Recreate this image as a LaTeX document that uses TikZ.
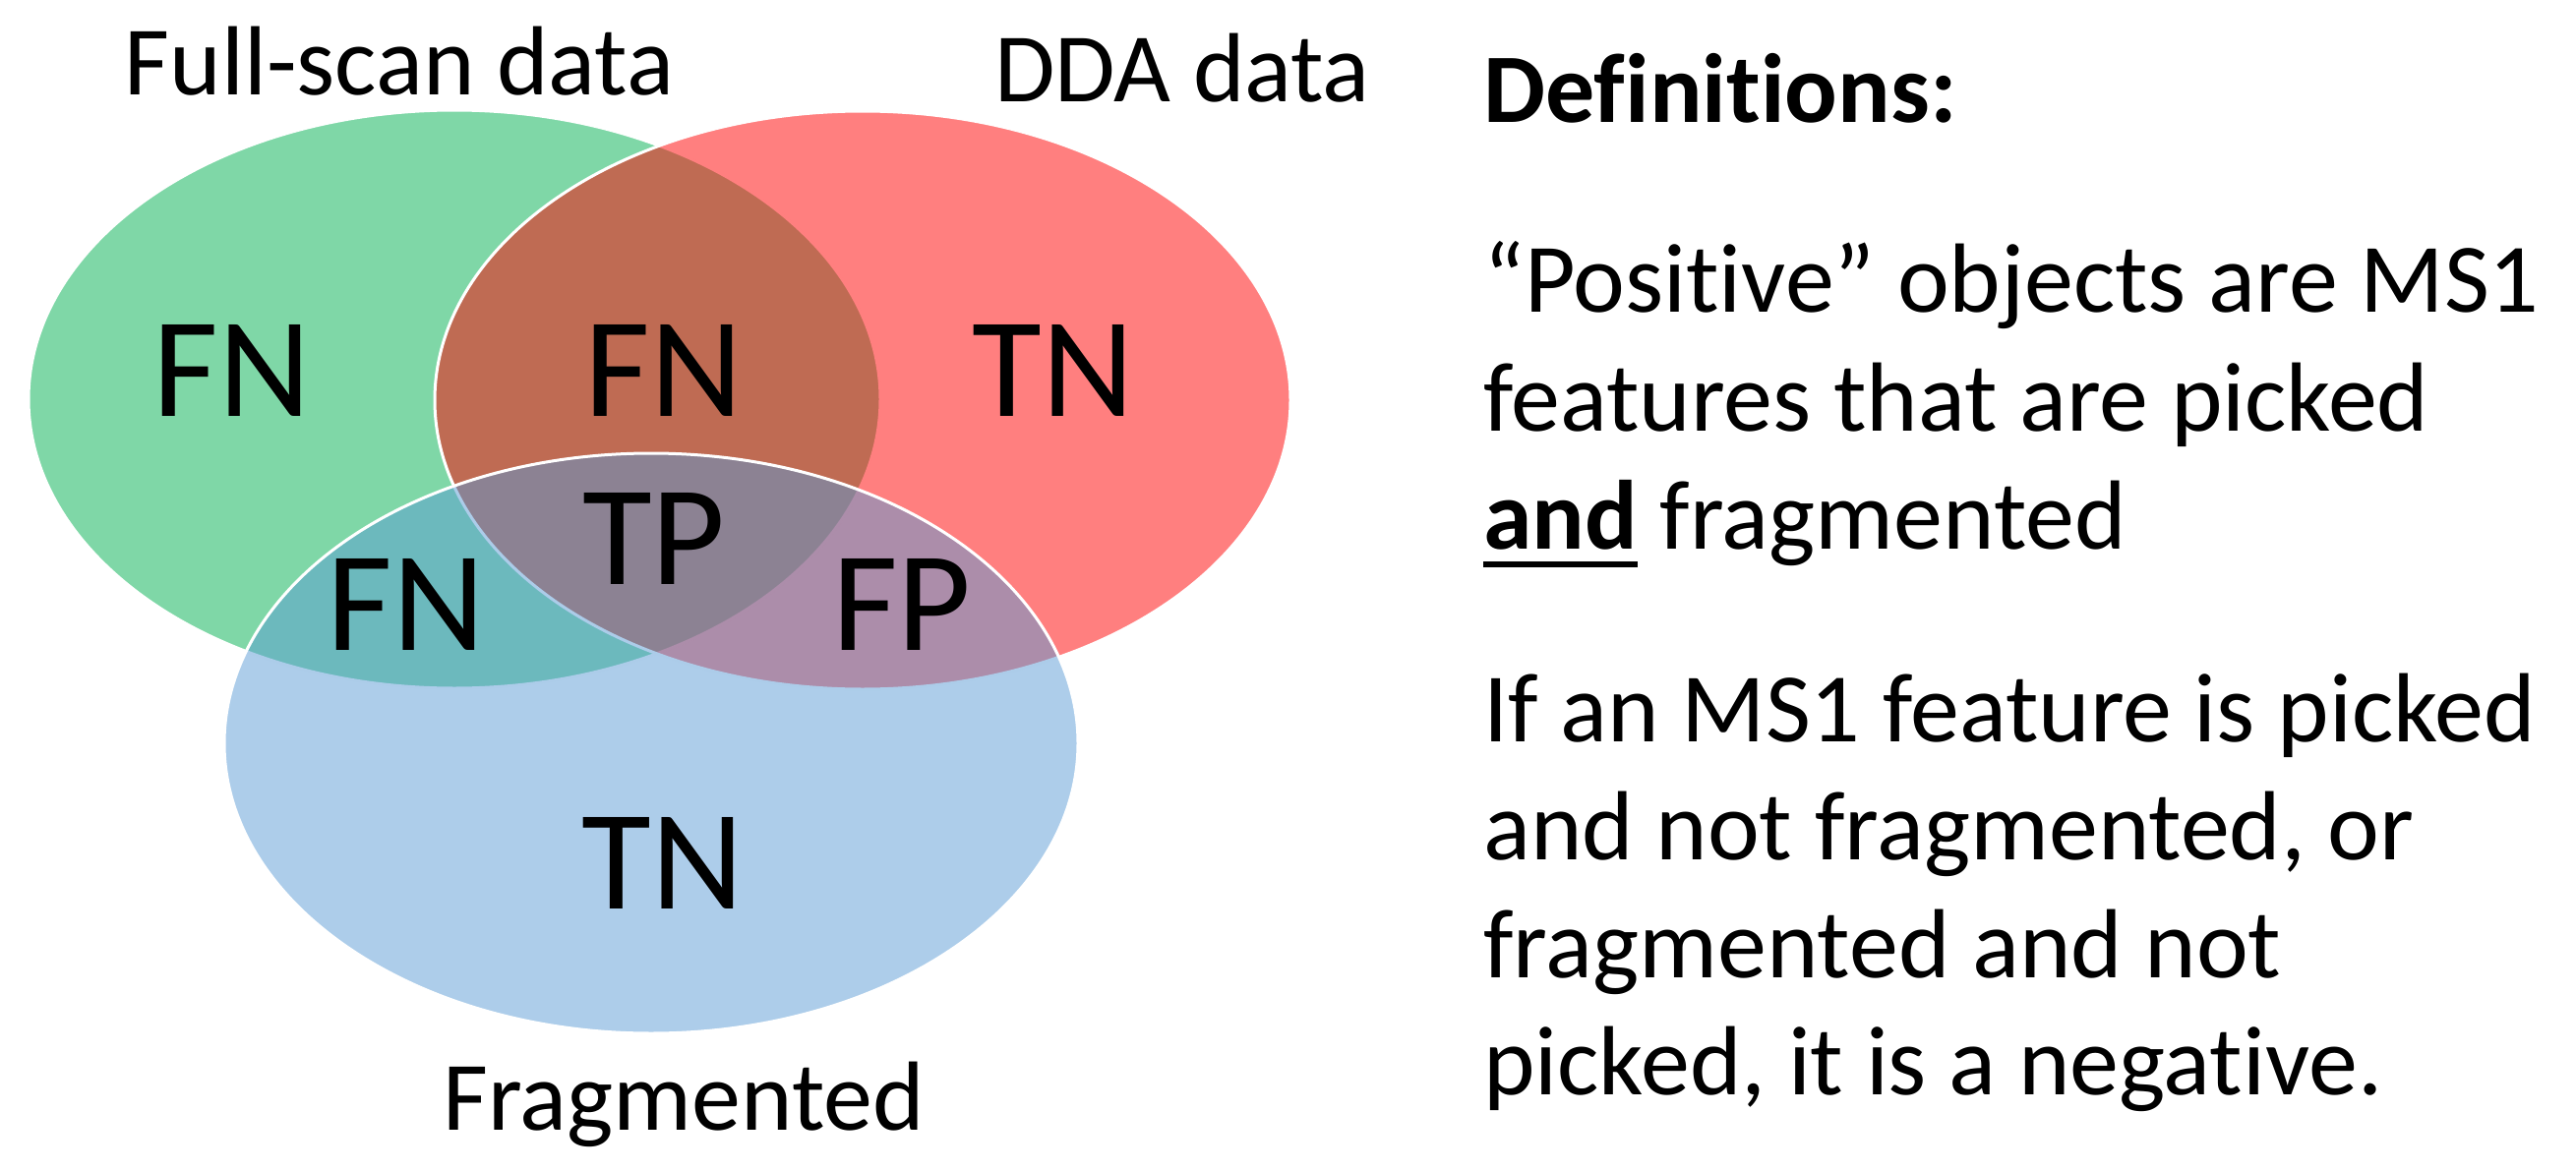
\documentclass[tikz,border=0pt]{standalone}
\usepackage{fontspec}
\setmainfont{Carlito}[Ligatures={NoCommon,NoContextual}]
\definecolor{vgreen}{HTML}{00B050}
\definecolor{vred}{HTML}{FF0000}
\definecolor{vblue}{HTML}{5B9BD5}
\newcommand{\ulbold}[1]{\setbox0\hbox{\bfseries #1}\rlap{\rule[-19pt]{\wd0}{6.5pt}}\box0\relax}
\begin{document}
\begin{tikzpicture}[x=1pt,y=-1pt,
  setshape/.style={draw=white, line width=3pt, fill opacity=0.5},
  lab/.style={font=\fontsize{145}{170}\selectfont, anchor=base, inner sep=0pt},
  captext/.style={font=\fontsize{100}{120}\selectfont, anchor=base, inner sep=0pt},
  body/.style={font=\fontsize{100}{120}\selectfont, anchor=base west, inner sep=0pt}]
\useasboundingbox (0,0) rectangle (2619,1191);
% sets
\path[setshape, fill=vgreen] (462,406) ellipse [x radius=433pt, y radius=294pt];
\path[setshape, fill=vred] (877,407) ellipse [x radius=435pt, y radius=294pt];
\path[setshape, fill=vblue] (662,756) ellipse [x radius=434pt, y radius=295pt];
% set captions
\node[captext] (fullscan) at (406,96) {Full-scan data};
\node[captext] (dda) at (1202,103) {DDA data};
\node[captext] (frag) at (695,1149) {Fragmented};
% region labels
\node[lab] (fnA) at (236,423) {FN};
\node[lab] (fnB) at (675,423) {FN};
\node[lab] (tnA) at (1071,423) {TN};
\node[lab] (tp) at (665,594) {TP};
\node[lab] (fnC) at (413,661) {FN};
\node[lab] (fp) at (917,661) {FP};
\node[lab] (tnB) at (674,924) {TN};
% definitions
\node[body] (defh) at (1508,124) {\bfseries Definitions:};
\node[body] (p1a) at (1508,317) {“Positive” objects are MS1};
\node[body] (p1b) at (1508,438) {features that are picked};
\node[body] (p1c) at (1508,558) {\ulbold{and} fragmented};
\node[body] (p2a) at (1508,754) {If an MS1 feature is picked};
\node[body] (p2b) at (1508,874) {and not fragmented, or};
\node[body] (p2c) at (1508,994) {fragmented and not};
\node[body] (p2d) at (1508,1113) {picked, it is a negative.};
\end{tikzpicture}
\end{document}
